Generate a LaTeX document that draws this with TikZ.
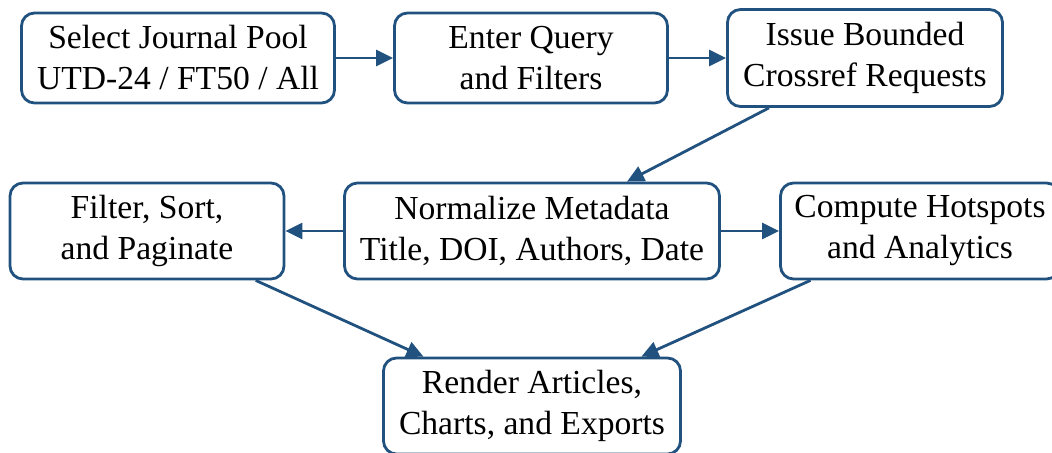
\documentclass[tikz,border=0pt]{standalone}
\usepackage{fontspec}
\setmainfont{Liberation Serif}
\usetikzlibrary{arrows.meta}
\definecolor{flowblue}{RGB}{33,81,126}

\begin{document}
\begin{tikzpicture}[x=0.5pt, y=-0.5pt,
    step box/.style={draw=flowblue, line width=1.4pt, rounded corners=6.5pt,
      align=center, inner sep=0pt, font=\fontsize{16.8}{20.5}\selectfont},
    flow/.style={draw=flowblue, line width=1.4pt,
      -{Triangle[length=8.5pt, width=8pt]}}]
  \useasboundingbox (0,0) rectangle (1052,453);
  \clip (0,0) rectangle (1052,453);
  % Ligne du haut
  \node[step box, minimum width=156.5pt, minimum height=45pt] (pool) at (178,58)
    {Select Journal Pool\\UTD-24 / FT50 / All};
  \node[step box, minimum width=136.5pt, minimum height=45pt] (query) at (531,58)
    {Enter Query\\and Filters};
  \node[step box, minimum width=137.5pt, minimum height=48.5pt] (fetch) at (865,58)
    {Issue Bounded\\Crossref Requests};
  % Ligne du milieu
  \node[step box, minimum width=137pt, minimum height=48pt] (filter) at (147,231)
    {Filter, Sort,\\and Paginate};
  \node[step box, minimum width=187.5pt, minimum height=48pt] (normal) at (532,231)
    {Normalize Metadata\\Title, DOI, Authors, Date};
  \node[step box, minimum width=139.5pt, minimum height=48pt] (hotspot) at (920,231)
    {Compute Hotspots\\and Analytics};
  % Rendu final
  \node[step box, minimum width=148.5pt, minimum height=48pt] (render) at (532,406)
    {Render Articles,\\Charts, and Exports};
  % Flèches
  \draw[flow] (pool) -- (query);
  \draw[flow] (query) -- (fetch);
  \draw[flow] (fetch) -- (normal);
  \draw[flow] (normal) -- (filter);
  \draw[flow] (normal) -- (hotspot);
  \draw[flow] (filter) -- (render);
  \draw[flow] (hotspot) -- (render);
\end{tikzpicture}
\end{document}
